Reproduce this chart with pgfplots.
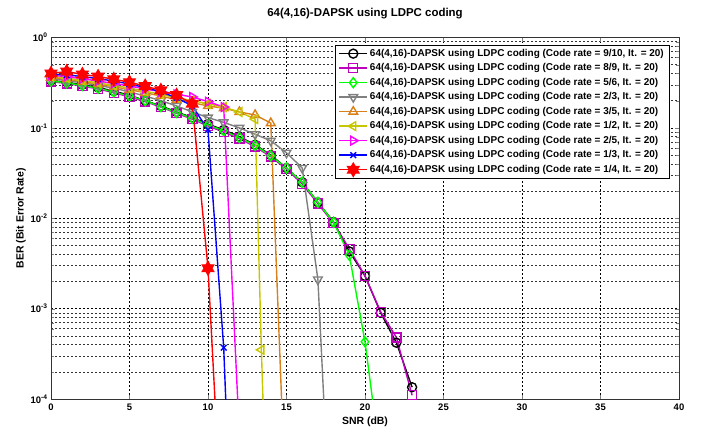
\documentclass[border=0pt]{standalone}
\usepackage{fontspec}
\setmainfont{Liberation Sans}
\usepackage{pgfplots}
\pgfplotsset{compat=1.18}
\usetikzlibrary{plotmarks}
\definecolor{cA}{rgb}{0,0,0}
\definecolor{cB}{rgb}{0.75,0,0.75}
\definecolor{cC}{rgb}{0,1,0}
\definecolor{cD}{rgb}{0.5,0.5,0.5}
\definecolor{cE}{rgb}{0.85,0.5,0.1}
\definecolor{cF}{rgb}{0.78,0.78,0}
\definecolor{cG}{rgb}{1,0,1}
\definecolor{cH}{rgb}{0,0,1}
\definecolor{cI}{rgb}{1,0,0}
\pgfdeclareplotmark{hexagram}{%
  \pgfpathmoveto{\pgfqpointpolar{90}{\pgfplotmarksize}}%
  \pgfpathlineto{\pgfqpointpolar{120}{0.577\pgfplotmarksize}}%
  \pgfpathlineto{\pgfqpointpolar{150}{\pgfplotmarksize}}%
  \pgfpathlineto{\pgfqpointpolar{180}{0.577\pgfplotmarksize}}%
  \pgfpathlineto{\pgfqpointpolar{210}{\pgfplotmarksize}}%
  \pgfpathlineto{\pgfqpointpolar{240}{0.577\pgfplotmarksize}}%
  \pgfpathlineto{\pgfqpointpolar{270}{\pgfplotmarksize}}%
  \pgfpathlineto{\pgfqpointpolar{300}{0.577\pgfplotmarksize}}%
  \pgfpathlineto{\pgfqpointpolar{330}{\pgfplotmarksize}}%
  \pgfpathlineto{\pgfqpointpolar{0}{0.577\pgfplotmarksize}}%
  \pgfpathlineto{\pgfqpointpolar{30}{\pgfplotmarksize}}%
  \pgfpathlineto{\pgfqpointpolar{60}{0.577\pgfplotmarksize}}%
  \pgfpathclose
  \pgfusepathqfillstroke}
\begin{document}
\begin{tikzpicture}
\useasboundingbox (-51bp,-43bp) rectangle (670bp,399bp);
\begin{axis}[
  at={(0,0)}, anchor=south west,
  scale only axis, width=628bp, height=361.5bp,
  xmin=0, xmax=40, ymin=1e-4, ymax=1, ymode=log,
  xtick={0,5,...,40},
  xticklabels={0,5,10,15,20,25,30,35,40},
  ytick={1e-4,1e-3,1e-2,1e-1,1},
  yticklabels={10\textsuperscript{-4},10\textsuperscript{-3},10\textsuperscript{-2},10\textsuperscript{-1},10\textsuperscript{0}},
  tick label style={font=\fontsize{9.5}{11}\selectfont\bfseries},
  xticklabel style={yshift=-1bp},
  tick align=inside,
  axis line style={line width=0.8bp, black!80},
  xmajorgrids, ymajorgrids, yminorgrids,
  major grid style={dash pattern=on 2bp off 2bp, line width=0.5bp, black},
  minor grid style={dash pattern=on 2bp off 2bp, line width=0.5bp, black!80},
  title={64(4,16)-DAPSK using LDPC coding},
  title style={font=\fontsize{11.5}{13}\selectfont\bfseries, at={(axis description cs:0.5,1.05)}, anchor=center, yshift=0pt},
  xlabel={SNR (dB)},
  xlabel style={font=\fontsize{10.5}{12}\selectfont\bfseries, at={(axis description cs:0.5,-0.0636)}, anchor=center},
  ylabel={BER (Bit Error Rate)},
  ylabel style={font=\fontsize{10.5}{12}\selectfont\bfseries, at={(axis description cs:-0.0478,0.5)}, anchor=center},
  legend style={at={(axis description cs:0.984,0.979)}, anchor=north east,
    font=\fontsize{10}{12}\selectfont\bfseries, draw=black, fill=white,
    inner xsep=3bp, inner ysep=2bp, row sep=1.8bp, cells={anchor=west}},
  legend image code/.code={\draw[mark repeat=2,mark phase=2] plot coordinates {(0bp,0bp) (14bp,0bp) (28bp,0bp)};},
  every axis plot/.append style={line width=1.4bp},
]
% 9/10 black circles
\addplot[color=cA, mark=o, mark size=4.5bp, mark options={solid}] coordinates {
(0,0.335) (1,0.32) (2,0.30) (3,0.28) (4,0.255) (5,0.23) (6,0.20) (7,0.175) (8,0.15) (9,0.13) (10,0.11) (11,0.095) (12,0.08) (13,0.065) (14,0.05) (15,0.036) (16,0.025) (17,0.015) (18,0.0091) (19,0.0043) (20,0.0023) (21,0.00090) (22,0.00042) (23,0.000135)};
\addlegendentry{64(4,16)-DAPSK using LDPC coding (Code rate = 9/10, It. = 20)}
% 8/9 magenta squares
\addplot[color=cB, mark=square, mark size=4.5bp] coordinates {
(0,0.325) (1,0.31) (2,0.29) (3,0.27) (4,0.245) (5,0.22) (6,0.195) (7,0.17) (8,0.145) (9,0.125) (10,0.105) (11,0.09) (12,0.076) (13,0.062) (14,0.048) (15,0.035) (16,0.024) (17,0.0145) (18,0.0088) (19,0.0046) (20,0.0023) (21,0.00092) (22,0.00048) (23,0.00011)};
\addlegendentry{64(4,16)-DAPSK using LDPC coding (Code rate = 8/9, It. = 20)}
% 5/6 green diamonds
\addplot[color=cC, mark=diamond, mark size=5bp] coordinates {
(0,0.33) (1,0.315) (2,0.295) (3,0.275) (4,0.25) (5,0.225) (6,0.20) (7,0.172) (8,0.148) (9,0.128) (10,0.108) (11,0.093) (12,0.078) (13,0.064) (14,0.049) (15,0.036) (16,0.025) (17,0.015) (18,0.009) (19,0.0039) (20,0.00043) (21,0.00002)};
\addlegendentry{64(4,16)-DAPSK using LDPC coding (Code rate = 5/6, It. = 20)}
% 2/3 gray down triangles
\addplot[color=cD, mark=triangle, mark size=5bp, mark options={rotate=180}] coordinates {
(0,0.35) (1,0.335) (2,0.315) (3,0.295) (4,0.275) (5,0.25) (6,0.225) (7,0.20) (8,0.175) (9,0.15) (10,0.13) (11,0.115) (12,0.10) (13,0.085) (14,0.072) (15,0.053) (16,0.036) (17,0.0021) (18,0.0000006)};
\addlegendentry{64(4,16)-DAPSK using LDPC coding (Code rate = 2/3, It. = 20)}
% 3/5 orange up triangles
\addplot[color=cE, mark=triangle, mark size=5bp] coordinates {
(0,0.36) (1,0.345) (2,0.325) (3,0.305) (4,0.285) (5,0.265) (6,0.245) (7,0.225) (8,0.205) (9,0.19) (10,0.175) (11,0.165) (12,0.15) (13,0.139) (14,0.113) (15,0.000004)};
\addlegendentry{64(4,16)-DAPSK using LDPC coding (Code rate = 3/5, It. = 20)}
% 1/2 olive left triangles
\addplot[color=cF, mark=triangle, mark size=5bp, mark options={rotate=90}] coordinates {
(0,0.37) (1,0.355) (2,0.335) (3,0.315) (4,0.295) (5,0.275) (6,0.255) (7,0.235) (8,0.215) (9,0.20) (10,0.185) (11,0.17) (12,0.15) (13,0.125) (13.4,0.00035) (14,0.0000002)};
\addlegendentry{64(4,16)-DAPSK using LDPC coding (Code rate = 1/2, It. = 20)}
% 2/5 magenta right triangles
\addplot[color=cG, mark=triangle, mark size=5bp, mark options={rotate=-90}] coordinates {
(0,0.38) (1,0.37) (2,0.35) (3,0.33) (4,0.31) (5,0.29) (6,0.27) (7,0.25) (8,0.235) (9,0.22) (10,0.195) (11,0.17) (12,0.00004)};
\addlegendentry{64(4,16)-DAPSK using LDPC coding (Code rate = 2/5, It. = 20)}
% 1/3 blue x
\addplot[color=cH, mark=x, mark size=4bp] coordinates {
(0,0.39) (1,0.385) (2,0.37) (3,0.35) (4,0.33) (5,0.305) (6,0.28) (7,0.25) (8,0.215) (9,0.175) (10,0.095) (11,0.00037) (12,0.000000015)};
\addlegendentry{64(4,16)-DAPSK using LDPC coding (Code rate = 1/3, It. = 20)}
% 1/4 red hexagram
\addplot[color=cI, mark=hexagram, mark size=6.5bp, mark options={fill=cI}] coordinates {
(0,0.40) (1,0.42) (2,0.39) (3,0.37) (4,0.345) (5,0.32) (6,0.29) (7,0.26) (8,0.23) (9,0.185) (10,0.0028) (11,0.0000015)};
\addlegendentry{64(4,16)-DAPSK using LDPC coding (Code rate = 1/4, It. = 20)}
\end{axis}
\end{tikzpicture}
\end{document}
